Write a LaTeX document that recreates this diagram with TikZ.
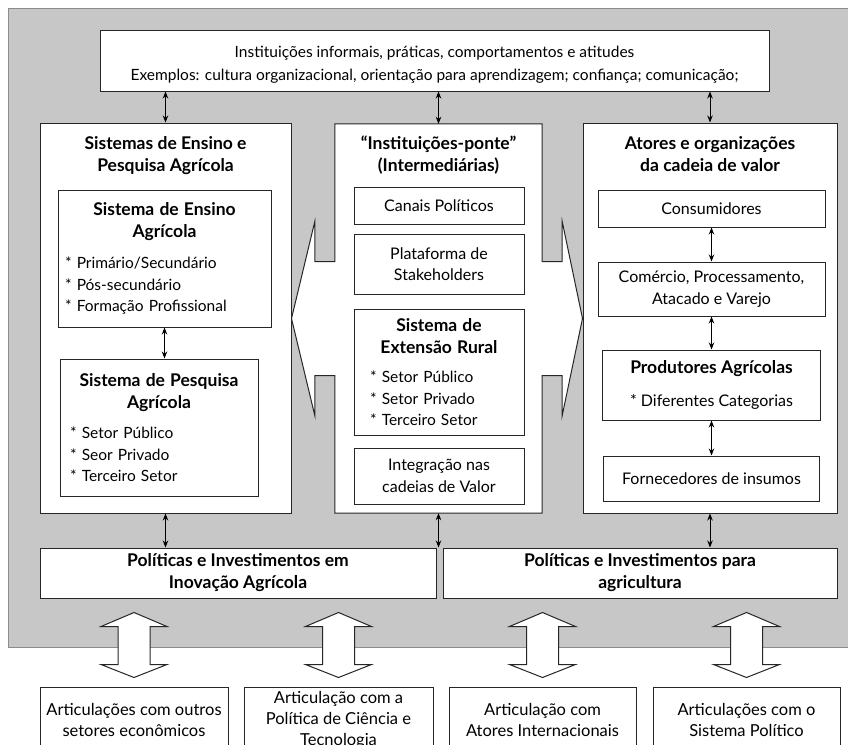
\documentclass[tikz,border=0pt]{standalone}
\usepackage{fontspec}
\setmainfont{Lato}
\usetikzlibrary{positioning,calc,arrows.meta}

\newcommand{\boxhead}[1]{{\centering\fontsize{17.5}{22}\selectfont\bfseries #1\par}}

\tikzset{
  box/.style={draw=black!85, line width=1pt, fill=white, align=center, inner sep=0pt},
  title/.style={align=center, font=\fontsize{17.5}{22}\selectfont\bfseries},
  txt/.style={font=\fontsize{16}{21.5}\selectfont},
  small/.style={font=\fontsize{15.5}{21.5}\selectfont},
  link/.style={<->, line width=0.9pt, >={Stealth[length=7pt,width=5.5pt]}},
  bigarrow/.style={draw=black!85, line width=1pt, fill=white},
}

\begin{document}
\begin{tikzpicture}[x=1pt, y=-1pt, every node/.style={txt}]
  \clip (0,0) rectangle (848,744);
  % gray area
  \filldraw[fill=black!22, draw=black!45, line width=1pt] (8,8) rectangle (870,647);

  \node[box, minimum width=669, minimum height=61,
        font=\fontsize{15.5}{23}\selectfont] (inf) at (434.5,60.5)
    {\rule{0pt}{20pt}Instituições informais, práticas, comportamentos e atitudes\\
     Exemplos: cultura organizacional, orientação para aprendizagem; confiança; comunicação;};

  % three columns
  \node[box, minimum width=251, minimum height=390] (ens) at (165.5,318) {};
  \node[box, minimum width=254, minimum height=390] (cad) at (710,318) {};
  \node[inner sep=0pt, minimum width=207, minimum height=389] (ponte) at (438.5,318.5) {};
  \draw[box] (ponte.north west) -- (ponte.north east) -- ($(ponte.east)+(0,-57)$)
    -- ++(20,0) -- ++(0,-40) -- (cad.west |- ponte.east) -- ($(ponte.east)+(20,97)$)
    -- ++(0,-40) -- ++(-20,0) -- (ponte.south east) -- (ponte.south west)
    -- ($(ponte.west)+(0,57)$) -- ++(-20,0) -- ++(0,40) -- (ens.east |- ponte.west)
    -- ($(ponte.west)+(-20,-97)$) -- ++(0,40) -- ++(20,0) -- cycle;

  \node[title] (enst) at ($(ens.north)+(0,33)$) {Sistemas de Ensino e\\Pesquisa Agrícola};
  \node[title] (pontet) at ($(ponte.north)+(0,31)$) {“Instituições-ponte”\\(Intermediárias)};
  \node[title] (cadt) at ($(cad.north)+(0,32)$) {Atores e organizações\\da cadeia de valor};

  % left column
  \node[box, small, align=left, text width=205, inner xsep=4, minimum height=137] (ensino) at (164.5,258.5)
    {\boxhead{Sistema de Ensino\\Agrícola}\vspace{10pt}
     {\leftskip=3pt {*} Primário/Secundário\\{*} Pós-secundário\\{*} Formação Profissional\par}};
  \node[box, small, align=left, text width=190, inner xsep=4, minimum height=137,
        below=31pt of ensino, xshift=-5.5pt] (pesq)
    {\boxhead{Sistema de Pesquisa\\Agrícola}\vspace{9pt}
     {\leftskip=6pt {*} Setor Público\\{*} Seor Privado\\{*} Terceiro Setor\par}};

  % middle column
  \node[box, minimum width=170, minimum height=37] (canais) at (439,205.5) {Canais Políticos};
  \node[box, minimum width=170, minimum height=60, below=9pt of canais] (plat) {Plataforma de\\Stakeholders};
  \node[box, small, align=left, text width=162, inner xsep=4, minimum height=126, below=14pt of plat] (ext)
    {\boxhead{Sistema de\\Extensão Rural}\vspace{8pt}
     {\leftskip=12pt {*} Setor Público\\{*} Setor Privado\\{*} Terceiro Setor\par}};
  \node[box, minimum width=170, minimum height=56, below=12pt of ext] (integ) {Integração nas\\cadeias de Valor};

  % right column
  \node[box, minimum width=227, minimum height=37] (cons) at (711.5,208.5) {Consumidores};
  \node[box, minimum width=227, minimum height=54, below=34pt of cons] (com) {Comércio, Processamento,\\Atacado e Varejo};
  \node[box, minimum width=218, minimum height=70, below=33pt of com] (prod)
    {\textbf{\fontsize{17.5}{22}\selectfont Produtores Agrícolas}\\[11pt]{*} Diferentes Categorias};
  \node[box, minimum width=216, minimum height=45, below=35pt of prod] (forn) {Fornecedores de insumos};

  % policies
  \node[box, title, minimum width=396, minimum height=50] (pol1) at (238,573)
    {Políticas e Investimentos em\\Inovação Agrícola};
  \node[box, title, minimum width=394, minimum height=50] (pol2) at (640,573)
    {Políticas e Investimentos para\\agricultura};

  % outside links
  \node[box, minimum width=188, minimum height=66, font=\fontsize{16.5}{21}\selectfont] (art1) at (134,720)
    {Articulações com outros\\setores econômicos};
  \node[box, minimum width=189, minimum height=66, font=\fontsize{16.5}{21}\selectfont, right=15pt of art1] (art2)
    {Articulação com a\\Política de Ciência e\\Tecnologia};
  \node[box, minimum width=187, minimum height=66, font=\fontsize{16.5}{21}\selectfont, right=15pt of art2] (art3)
    {Articulação com\\Atores Internacionais};
  \node[box, minimum width=187, minimum height=66, font=\fontsize{16.5}{21}\selectfont, right=16pt of art3] (art4)
    {Articulações com o\\Sistema Político};

  \foreach \a in {art1,art2,art3,art4}
    \draw[bigarrow] ($(\a.north)+(0,-74)$) -- ++(33,14) -- ++(-17,0) -- ++(0,38) -- ++(17,0)
      -- ++(-33,13) -- ++(-33,-13) -- ++(17,0) -- ++(0,-38) -- ++(-17,0) -- cycle;

  % links
  \draw[link] (inf.south -| ens) -- (ens.north);
  \draw[link] (inf.south -| ponte) -- (ponte.north);
  \draw[link] (inf.south -| cad) -- (cad.north);
  \draw[link] (ens.south) -- (ens.south |- pol1.north);
  \draw[link] (ponte.south) -- (ponte.south |- pol1.north);
  \draw[link] (cad.south) -- (cad.south |- pol2.north);
  \draw[link] (ensino.south) -- (ensino.south |- pesq.north);
  \draw[link] (cons) -- (com);
  \draw[link] (com) -- (prod);
  \draw[link] (prod) -- (forn);
\end{tikzpicture}
\end{document}
